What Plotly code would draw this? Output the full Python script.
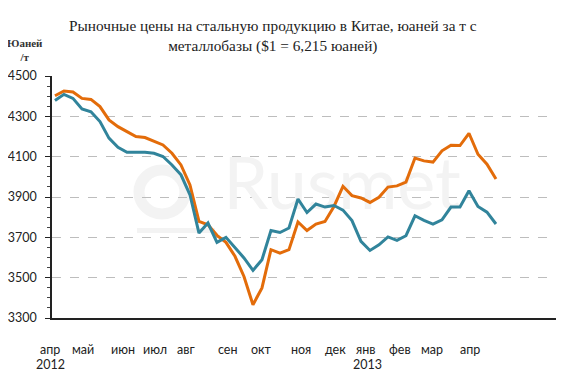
import plotly.graph_objects as go

# ---- data ----
week_index = list(range(50))
price_orange = [4402, 4426, 4421, 4389, 4384, 4348, 4282, 4249, 4224, 4200,
                4195, 4175, 4158, 4117, 4059, 3960, 3779, 3762, 3710, 3675,
                3606, 3506, 3366, 3449, 3639, 3622, 3639, 3776, 3734, 3766,
                3779, 3853, 3953, 3907, 3895, 3873, 3899, 3949, 3955, 3974,
                4093, 4079, 4073, 4129, 4157, 4155, 4216, 4112, 4063, 3989]
price_teal = [4378, 4409, 4389, 4337, 4323, 4274, 4192, 4147, 4122, 4122,
              4122, 4117, 4101, 4059, 4010, 3911, 3721, 3771, 3675, 3700,
              3647, 3598, 3536, 3589, 3734, 3724, 3746, 3890, 3823, 3865,
              3850, 3858, 3835, 3783, 3680, 3635, 3663, 3702, 3685, 3708,
              3807, 3784, 3766, 3787, 3850, 3850, 3931, 3853, 3825, 3766]
month_labels = ["апр", "май", "июн", "июл", "авг", "сен", "окт",
                "ноя", "дек", "янв", "фев", "мар", "апр"]
year_labels = ["2012", "2013"]

title_text = "Рыночные цены на стальную продукцию в Китае, юаней за т с<br>металлобазы ($1 = 6,215 юаней)"
unit_text = "<b>Юаней<br>/т</b>"
watermark_text = "Rusmet"

ORANGE = "#E36C0A"
TEAL = "#31849B"
WM = "#f3f3f3"

# ---- layout geometry (screen pixels; page body adds an 8px offset) ----
OFF = 8
PL, PR, PT, PB = 52, 556, 76, 318
W, H = 580, 380
ml, mt = PL - OFF, PT - OFF
mr = W + OFF - PR
mb = H + OFF - PB
pw, ph = PR - PL, PB - PT


def fx(sx):
    return (sx - PL) / pw


def fy(sy):
    return (PB - sy) / ph


month_label_px = [50, 83, 123, 155, 186, 228, 261, 301, 335, 365, 400, 432, 470]
year_label_px = [50, 367]

fig = go.Figure()

# faint watermark (below the lines)
fig.add_trace(go.Scatter(x=[31.9], y=[3931], mode="text", text=[watermark_text],
                         textfont=dict(family="Lato", size=72, color=WM),
                         hoverinfo="skip", showlegend=False))

fig.add_trace(go.Scatter(x=week_index, y=price_orange, mode="lines",
                         line=dict(color=ORANGE, width=3), showlegend=False))
fig.add_trace(go.Scatter(x=week_index, y=price_teal, mode="lines",
                         line=dict(color=TEAL, width=3), showlegend=False))

shapes = [
    dict(type="circle", xref="paper", yref="paper", layer="below",
         x0=fx(139), x1=fx(185), y0=fy(214), y1=fy(170),
         line=dict(color=WM, width=11)),
    dict(type="rect", xref="paper", yref="paper", layer="below",
         x0=fx(137), x1=fx(215), y0=fy(233), y1=fy(228),
         line=dict(width=0), fillcolor=WM),
]

annotations = []
for lab, sx in zip(month_labels, month_label_px):
    annotations.append(dict(x=fx(sx), y=fy(349), xref="paper", yref="paper", text=lab,
                            showarrow=False, xanchor="center", yanchor="middle",
                            font=dict(family="Lato", size=12.5, color="#222")))
for lab, sx in zip(year_labels, year_label_px):
    annotations.append(dict(x=fx(sx), y=fy(364), xref="paper", yref="paper", text=lab,
                            showarrow=False, xanchor="center", yanchor="middle",
                            font=dict(family="Lato", size=12.5, color="#222")))

annotations.append(dict(x=fx(273), y=fy(36), xref="paper", yref="paper",
                        text=title_text, showarrow=False, xanchor="center",
                        yanchor="middle",
                        font=dict(family="Liberation Serif", size=15.3, color="#222")))
annotations.append(dict(x=fx(25), y=fy(50), xref="paper", yref="paper",
                        text=unit_text, showarrow=False, xanchor="center",
                        yanchor="middle",
                        font=dict(family="Liberation Serif", size=11, color="#333")))

fig.update_layout(
    width=W, height=H,
    margin=dict(l=ml, r=mr, t=mt, b=mb, autoexpand=False),
    paper_bgcolor="white", plot_bgcolor="white",
    annotations=annotations,
    shapes=shapes,
    xaxis=dict(range=[-0.33, 55.67], showgrid=False, zeroline=False,
               showticklabels=False, ticks="", showline=True, automargin=False,
               linecolor="#222", linewidth=1.5),
    yaxis=dict(range=[3300, 4500], tick0=3300, dtick=200, automargin=False,
               showgrid=True, gridcolor="#bdbdbd", griddash="dash", gridwidth=1,
               zeroline=False, showline=True, linecolor="#222", linewidth=1.5,
               ticks="outside", ticklen=5, tickcolor="#222",
               ticklabelstandoff=6,
               tickfont=dict(family="Lato", size=12.5, color="#222"),
               minor=dict(dtick=50, ticks="outside", ticklen=3,
                          tickcolor="#444", showgrid=False)),
)

fig.write_html("out.html")
